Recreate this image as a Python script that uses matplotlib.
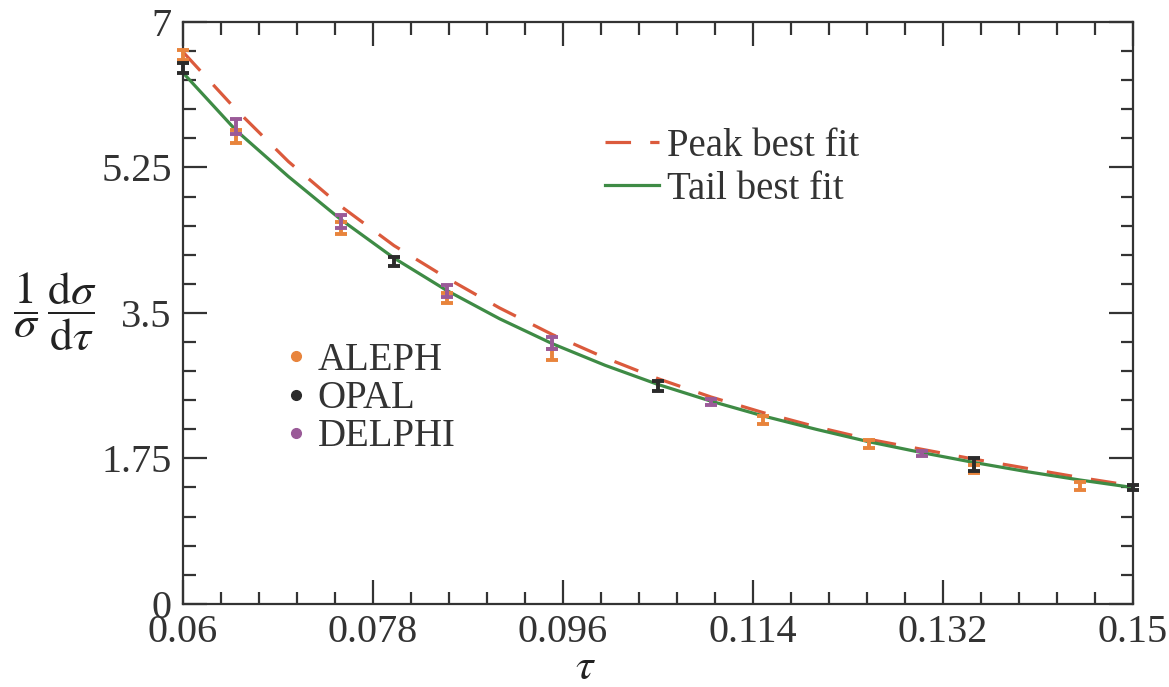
import matplotlib
matplotlib.use("Agg")
import matplotlib.pyplot as plt
from matplotlib.lines import Line2D

plt.rcParams['font.family'] = ['Liberation Serif', 'DejaVu Serif']
plt.rcParams['mathtext.fontset'] = 'stix'

# measured points (tau, 1/sigma dsigma/dtau, error)
aleph_tau = [0.06, 0.065, 0.075, 0.085, 0.095, 0.115, 0.125, 0.135, 0.145]
aleph_val = [6.60, 5.62, 4.52, 3.68, 3.00, 2.21, 1.92, 1.62, 1.42]
aleph_err = [0.06, 0.08, 0.07, 0.06, 0.07, 0.05, 0.05, 0.05, 0.05]

opal_tau = [0.06, 0.08, 0.105, 0.135, 0.15]
opal_val = [6.45, 4.12, 2.62, 1.68, 1.40]
opal_err = [0.06, 0.05, 0.06, 0.08, 0.03]

delphi_tau = [0.065, 0.075, 0.085, 0.095, 0.11, 0.13]
delphi_val = [5.74, 4.60, 3.76, 3.14, 2.43, 1.81]
delphi_err = [0.09, 0.08, 0.07, 0.07, 0.04, 0.03]

# fit curves
fit_tau = [0.060, 0.065, 0.070, 0.075, 0.080, 0.085, 0.090, 0.095, 0.100, 0.105,
           0.110, 0.115, 0.120, 0.125, 0.130, 0.135, 0.140, 0.145, 0.150]
peak_fit = [6.64, 5.95, 5.32, 4.78, 4.31, 3.92, 3.56, 3.24, 2.96, 2.71,
            2.49, 2.30, 2.13, 1.98, 1.86, 1.74, 1.63, 1.52, 1.42]
tail_fit = [6.39, 5.70, 5.14, 4.62, 4.16, 3.77, 3.43, 3.13, 2.87, 2.64,
            2.44, 2.26, 2.10, 1.95, 1.82, 1.70, 1.59, 1.49, 1.40]

x_ticks = [0.06, 0.078, 0.096, 0.114, 0.132, 0.15]
x_labels = ['0.06', '0.078', '0.096', '0.114', '0.132', '0.15']
y_ticks = [0, 1.75, 3.5, 5.25, 7]
y_labels = ['0', '1.75', '3.5', '5.25', '7']

c_aleph = '#E8843C'
c_opal = '#2B2B2B'
c_delphi = '#9A5A98'
c_peak = '#DB5A3C'
c_tail = '#3E8B45'
c_text = '#333333'

fig = plt.figure(figsize=(11.69, 6.87), dpi=100)
ax = fig.add_axes([0.1565, 0.121, 0.8125, 0.847])

ax.plot(fit_tau, peak_fit, color=c_peak, lw=2.3, dashes=(8, 6))
ax.plot(fit_tau, tail_fit, color=c_tail, lw=2.3)

for t, v, e, c in [(aleph_tau, aleph_val, aleph_err, c_aleph),
                   (opal_tau, opal_val, opal_err, c_opal),
                   (delphi_tau, delphi_val, delphi_err, c_delphi)]:
    ax.errorbar(t, v, yerr=e, fmt='none', ecolor=c, elinewidth=2.8,
                capsize=4, capthick=2.8, zorder=3, clip_on=False)

ax.set_xlim(0.06, 0.15)
ax.set_ylim(0, 7)
ax.set_xticks(x_ticks)
ax.set_xticklabels(x_labels)
ax.set_yticks(y_ticks)
ax.set_yticklabels(y_labels)
ax.set_xticks([0.06 + 0.0036 * i for i in range(26)], minor=True)
ax.set_yticks([0.35 * i for i in range(21)], minor=True)
ax.tick_params(which='both', direction='in', top=True, right=True,
               labelsize=29, colors=c_text, width=1.6)
ax.tick_params(which='major', length=17)
ax.tick_params(which='minor', length=9)
ax.tick_params(axis='x', which='major', pad=7)
ax.tick_params(axis='y', which='major', pad=8)
for s in ax.spines.values():
    s.set_linewidth(1.6)
    s.set_color(c_text)

fig.text(585 / 1169, 1 - 668 / 687, r'$\tau$', fontsize=32,
         ha='center', va='center', color='#222222')
fig.text(55 / 1169, 1 - 312 / 687,
         r'$\dfrac{1}{\sigma}\,\dfrac{\mathrm{d}\sigma}{\mathrm{d}\tau}$',
         fontsize=33, ha='center', va='center', color='#222222')

fit_handles = [Line2D([], [], color=c_peak, lw=2.3, dashes=(8, 6)),
               Line2D([], [], color=c_tail, lw=2.3)]
leg1 = ax.legend(fit_handles, ['Peak best fit', 'Tail best fit'],
                 loc='upper left', bbox_to_anchor=(0.444, 0.818), frameon=False,
                 fontsize=28, handlelength=1.4, handletextpad=0.2,
                 borderpad=0, borderaxespad=0, labelspacing=0.15)
for t in leg1.get_texts():
    t.set_color(c_text)
ax.add_artist(leg1)

data_handles = [Line2D([], [], ls='none', marker='o', ms=7, color=c)
                for c in (c_aleph, c_opal, c_delphi)]
leg2 = ax.legend(data_handles, ['ALEPH', 'OPAL', 'DELPHI'],
                 loc='upper left', bbox_to_anchor=(0.107, 0.45), frameon=False,
                 fontsize=28, handlelength=0.6, handletextpad=0.25,
                 borderpad=0, borderaxespad=0, labelspacing=0.03)
for t in leg2.get_texts():
    t.set_color(c_text)

fig.savefig('out.png', dpi=100)
